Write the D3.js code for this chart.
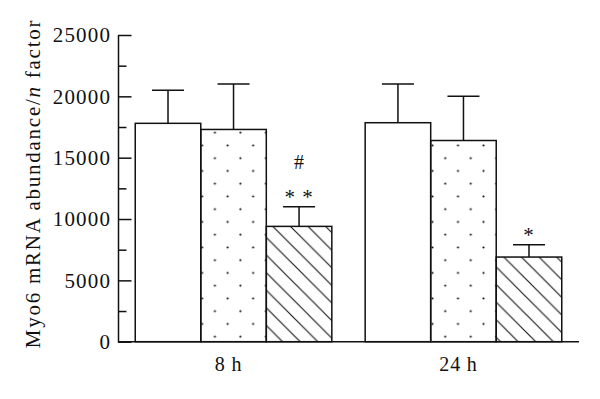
<!DOCTYPE html>
<meta charset='utf-8'>
<html>
<head>
    <script src='https://d3js.org/d3.v7.min.js'></script>
    <style>
        html,
        body {
            margin: 0;
            padding: 0;
            background: #fff;
        }

        svg {
            display: block;
        }
    </style>
</head>
<body>
    <script>
        // data
        const groups = ['8 h', '24 h'];
        const series = ['plain', 'dotted', 'hatched'];
        const means = [[17800, 17300, 9400], [17850, 16400, 6900]];
        const errors = [[2700, 3700, 1600], [3150, 3600, 1000]];
        const marksLow = [['', '', '* *'], ['', '', '*']];
        const marksHigh = [['', '', '#'], ['', '', '']];
        const majorTicks = [0, 5000, 10000, 15000, 20000, 25000];
        const minorTicks = [2500, 7500, 12500, 17500, 22500];

        const width = 600;
        const height = 399;
        const ink = '#111';
        const font = "'Liberation Serif', 'Times New Roman', serif";

        const svg = d3.select('body')
            .append('svg')
            .attr('width', width)
            .attr('height', height)
            .style('font-family', font);

        const y = d3.scaleLinear()
            .domain([0, 25000])
            .range([341.7, 35]);

        const x0 = d3.scaleBand()
            .domain(groups)
            .range([118, 579])
            .paddingInner(0.145)
            .paddingOuter(0.075);

        const x1 = d3.scaleBand()
            .domain(series)
            .range([0, x0.bandwidth()]);

        // fill patterns, one per bar so they line up with the bar edges
        const defs = svg.append('defs');
        const dotStep = 25.5;
        const hatchStep = 17.6;

        groups.forEach(function (g, gi) {
            const left = x0(g) + x1('dotted');
            const dots = defs.append('pattern')
                .attr('id', 'dots-' + gi)
                .attr('patternUnits', 'userSpaceOnUse')
                .attr('x', left)
                .attr('y', y(0) - 11.4)
                .attr('width', dotStep)
                .attr('height', dotStep);
            dots.append('circle')
                .attr('cx', dotStep / 4).attr('cy', dotStep / 4)
                .attr('r', 1.1).attr('fill', ink);
            dots.append('circle')
                .attr('cx', dotStep * 3 / 4).attr('cy', dotStep * 3 / 4)
                .attr('r', 1.1).attr('fill', ink);

            const hLeft = x0(g) + x1('hatched');
            const s = hatchStep;
            defs.append('pattern')
                .attr('id', 'hatch-' + gi)
                .attr('patternUnits', 'userSpaceOnUse')
                .attr('x', hLeft)
                .attr('y', y(means[gi][2]) + 5.5)
                .attr('width', s)
                .attr('height', s)
                .append('path')
                .attr('d', 'M-1,-1 L' + (s + 1) + ',' + (s + 1) +
                    ' M-1,' + (s - 1) + ' l2,2 M' + (s - 1) + ',-1 l2,2')
                .attr('stroke', ink)
                .attr('stroke-width', 1.1)
                .attr('fill', 'none');
        });

        const fillFor = function (si, gi) {
            if (series[si] === 'dotted') return 'url(#dots-' + gi + ')';
            if (series[si] === 'hatched') return 'url(#hatch-' + gi + ')';
            return '#fff';
        };

        // bars
        const groupSel = svg.selectAll('g.group')
            .data(groups)
            .enter()
            .append('g')
            .attr('class', 'group')
            .attr('transform', function (d) { return 'translate(' + x0(d) + ',0)'; });

        groupSel.each(function (g, gi) {
            const sel = d3.select(this);
            const rows = series.map(function (s, si) {
                return { s: s, si: si, v: means[gi][si], e: errors[gi][si] };
            });

            sel.selectAll('rect.bar')
                .data(rows)
                .enter()
                .append('rect')
                .attr('class', 'bar')
                .attr('x', function (d) { return x1(d.s); })
                .attr('y', function (d) { return y(d.v); })
                .attr('width', x1.bandwidth())
                .attr('height', function (d) { return y(0) - y(d.v); })
                .attr('fill', function (d) { return fillFor(d.si, gi); })
                .attr('stroke', ink)
                .attr('stroke-width', 1.5);

            // upper error bars only
            const cap = 16;
            sel.selectAll('path.err')
                .data(rows)
                .enter()
                .append('path')
                .attr('class', 'err')
                .attr('d', function (d) {
                    const cx = x1(d.s) + x1.bandwidth() / 2;
                    return 'M' + cx + ',' + y(d.v) + 'V' + y(d.v + d.e) +
                        'M' + (cx - cap) + ',' + y(d.v + d.e) + 'H' + (cx + cap);
                })
                .attr('stroke', ink)
                .attr('stroke-width', 1.5)
                .attr('fill', 'none');

            // significance marks
            sel.selectAll('text.low')
                .data(rows)
                .enter()
                .append('text')
                .attr('class', 'low')
                .attr('x', function (d) { return x1(d.s) + x1.bandwidth() / 2; })
                .attr('y', function (d) { return y(d.v + d.e) - 3; })
                .attr('text-anchor', 'middle')
                .style('font-size', '21px')
                .style('letter-spacing', '1px')
                .attr('fill', ink)
                .text(function (d) { return marksLow[gi][d.si]; });

            sel.selectAll('text.high')
                .data(rows)
                .enter()
                .append('text')
                .attr('class', 'high')
                .attr('x', function (d) { return x1(d.s) + x1.bandwidth() / 2; })
                .attr('y', function (d) { return y(d.v + d.e) - 38; })
                .attr('text-anchor', 'middle')
                .style('font-size', '20px')
                .attr('fill', ink)
                .text(function (d) { return marksHigh[gi][d.si]; });
        });

        // y axis, ticks point inward
        const yAxis = svg.append('g')
            .attr('transform', 'translate(118,0)')
            .call(d3.axisLeft(y)
                .tickValues(majorTicks)
                .tickSizeInner(-13.5)
                .tickSizeOuter(0)
                .tickPadding(6.8)
                .tickFormat(d3.format('d')));

        svg.append('g')
            .attr('transform', 'translate(118,0)')
            .call(d3.axisLeft(y)
                .tickValues(minorTicks)
                .tickSizeInner(-8.5)
                .tickSizeOuter(0)
                .tickFormat(''))
            .select('.domain').remove();

        svg.selectAll('.tick line, .domain')
            .attr('stroke', ink)
            .attr('stroke-width', 1.5);

        yAxis.selectAll('text')
            .attr('fill', ink)
            .style('font-family', font)
            .style('font-size', '21px')
            .style('letter-spacing', '1.2px');

        // x axis line and group labels
        svg.append('line')
            .attr('x1', 118)
            .attr('x2', 579)
            .attr('y1', y(0))
            .attr('y2', y(0))
            .attr('stroke', ink)
            .attr('stroke-width', 1.5);

        svg.selectAll('text.group-label')
            .data(groups)
            .enter()
            .append('text')
            .attr('class', 'group-label')
            .attr('x', function (d) { return x0(d) + x0.bandwidth() / 2 - 5; })
            .attr('y', 370.5)
            .attr('text-anchor', 'middle')
            .style('font-size', '20px')
            .style('letter-spacing', '0.8px')
            .attr('fill', ink)
            .text(function (d) { return d; });

        // y axis title
        const title = svg.append('text')
            .attr('transform', 'translate(39.5,183.5) rotate(-90)')
            .attr('text-anchor', 'middle')
            .style('font-size', '21px')
            .style('letter-spacing', '1.75px')
            .attr('fill', ink);
        title.append('tspan').text('Myo6 mRNA abundance/');
        title.append('tspan').style('font-style', 'italic').text('n');
        title.append('tspan').text(' factor');
    </script>
</body>
</html>
